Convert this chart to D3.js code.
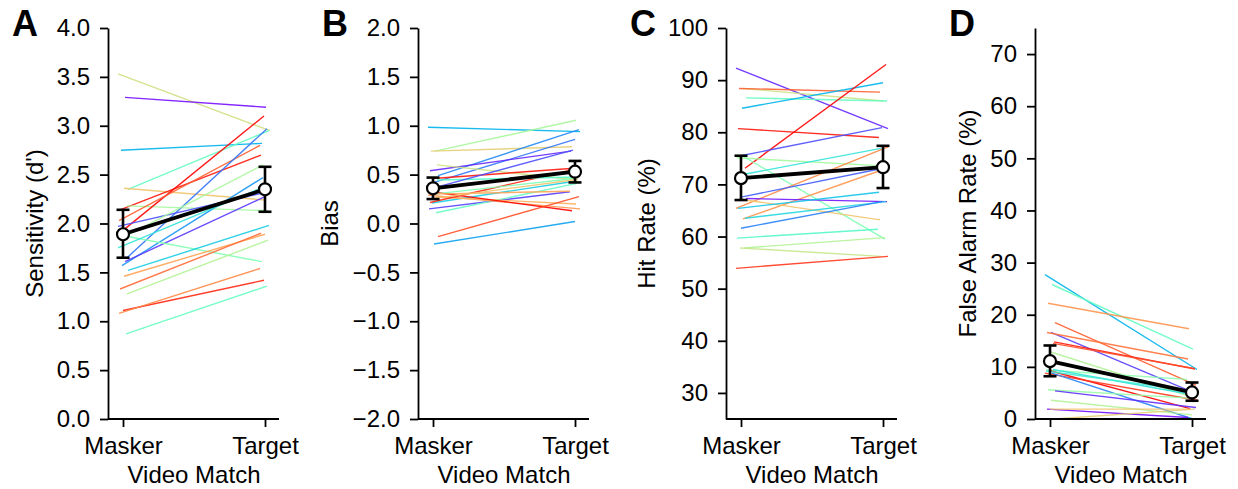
<!DOCTYPE html>
<html>
<head>
<meta charset="utf-8">
<script src="https://cdn.jsdelivr.net/npm/d3@7"></script>
<style>
  body { margin: 0; background: #fff; }
  svg { display: block; font-family: "Liberation Sans", Arial, sans-serif; }
</style>
</head>
<body>
<svg id="chart" width="1238" height="489"></svg>
<script>
// Conditions on the x axis
const conditions = ["Masker", "Target"];

// Panel A - sensitivity (d') per subject
const dprimeMasker = [3.53, 3.29, 2.75, 2.35, 2.36, 2.14, 2.18, 1.93, 2.03, 1.64, 1.57, 1.97, 1.61, 1.88, 1.52, 1.46, 1.33, 1.28, 1.11, 1.08, 0.87, 1.85, 1.75];
const dprimeTarget = [2.95, 3.19, 2.82, 2.95, 2.24, 2.70, 2.13, 3.10, 2.80, 2.97, 2.47, 2.33, 2.28, 1.61, 1.98, 1.89, 1.90, 1.83, 1.42, 1.54, 1.36, 2.60, 2.40];
const dprimeHue    = [0.66, 0.02, 0.25, 0.45, 0.72, 0.97, 0.57, 1.00, 0.88, 0.15, 0.20, 0.10, 0.07, 0.50, 0.30, 0.78, 0.86, 0.60, 0.95, 0.82, 0.45, 0.58, 0.35];
const dprimeMean = [1.89, 2.35];
const dprimeErrLo = [1.65, 2.12];
const dprimeErrHi = [2.14, 2.58];

// Panel B - bias
const biasMasker = [0.985, 0.74, 0.74, 0.49, 0.42, 0.54, 0.60, 0.46, 0.15, 0.11, 0.21, 0.29, 0.27, 0.325, -0.135, -0.21, 0.215, 0.445, 0.30, 0.30, 0.26, 0.36];
const biasTarget = [0.94, 1.056, 0.785, 0.96, 0.86, 0.74, 0.445, 0.565, 0.325, 0.41, 0.43, 0.15, 0.20, 0.13, 0.275, 0.02, 0.545, 0.475, 0.46, 0.33, 0.45, 0.75];
const biasHue    = [0.25, 0.58, 0.70, 0.18, 0.15, 0.05, 0.65, 0.97, 0.08, 0.45, 0.30, 0.80, 0.76, 1.00, 0.90, 0.22, 0.95, 0.42, 0.50, 0.78, 0.72, 0.10];
const biasMean = [0.36, 0.53];
const biasErrLo = [0.25, 0.42];
const biasErrHi = [0.47, 0.64];

// Panel C - hit rate (%)
const hitMasker = [92.3, 88.4, 88.4, 86.6, 84.6, 80.7, 73.1, 75.5, 75.1, 75.3, 71.8, 65.4, 63.4, 67.2, 67.3, 67.6, 65.4, 63.5, 61.6, 59.7, 57.8, 57.8, 53.9];
const hitTarget = [80.7, 86.0, 87.7, 86.0, 89.5, 79.0, 93.0, 80.9, 73.6, 59.5, 76.9, 77.2, 72.9, 63.2, 66.7, 73.1, 68.5, 66.7, 66.7, 61.4, 59.8, 56.2, 56.2];
const hitHue    = [0.05, 0.65, 0.88, 0.45, 0.25, 0.97, 1.00, 0.10, 0.57, 0.50, 0.35, 0.82, 0.80, 0.72, 0.03, 0.12, 0.28, 0.32, 0.17, 0.42, 0.60, 0.64, 0.93];
const hitMean = [71.2, 73.3];
const hitErrLo = [67.0, 69.3];
const hitErrHi = [75.5, 77.4];

// Panel D - false alarm rate (%)
const faMasker = [27.7, 25.8, 22.2, 18.5, 16.6, 16.6, 14.8, 12.9, 9.4, 9.5, 9.3, 8.8, 8.8, 5.6, 5.4, 3.6, 1.9, 0.0, 1.9, 9.2, 14.5];
const faTarget = [9.5, 13.4, 17.3, 6.5, 5.2, 11.5, 9.6, 4.3, 7.6, 4.6, 2.0, 3.6, 0.0, 4.0, 2.2, 0.8, 0.3, 1.9, 1.9, 5.5, 9.7];
const faHue    = [0.25, 0.45, 0.80, 0.88, 0.08, 0.85, 0.97, 0.60, 0.52, 0.35, 1.00, 0.93, 0.17, 0.55, 0.06, 0.60, 0.02, 0.70, 0.72, 0.38, 0.90];
const faMean = [11.1, 5.1];
const faErrLo = [8.2, 3.5];
const faErrHi = [14.1, 7.0];

// matplotlib "rainbow" colormap
function rainbow(t) {
  const r = Math.min(1, Math.abs(2 * t - 0.5));
  const g = Math.sin(Math.PI * t);
  const b = Math.cos(Math.PI * t / 2);
  return d3.rgb(r * 255, g * 255, b * 255).toString();
}

const panels = [
  { letter: "A", left: 108, letterX: 12, labelX: 43, title: "Sensitivity (d')", domain: [0, 4], ticks: d3.range(0, 4.01, 0.5), fmt: d3.format(".1f"),
    masker: dprimeMasker, target: dprimeTarget, hue: dprimeHue, mean: dprimeMean, lo: dprimeErrLo, hi: dprimeErrHi },
  { letter: "B", left: 418, letterX: 322, labelX: 338, title: "Bias", domain: [-2, 2], ticks: d3.range(-2, 2.01, 0.5), fmt: d => d3.format(".1f")(d).replace("-", "\u2212"),
    masker: biasMasker, target: biasTarget, hue: biasHue, mean: biasMean, lo: biasErrLo, hi: biasErrHi },
  { letter: "C", left: 726, letterX: 630, labelX: 655, title: "Hit Rate (%)", domain: [25, 100], ticks: d3.range(30, 101, 10), fmt: d3.format("d"),
    masker: hitMasker, target: hitTarget, hue: hitHue, mean: hitMean, lo: hitErrLo, hi: hitErrHi },
  { letter: "D", left: 1035, letterX: 949, labelX: 976, title: "False Alarm Rate (%)", domain: [0, 75], ticks: d3.range(0, 71, 10), fmt: d3.format("d"),
    masker: faMasker, target: faTarget, hue: faHue, mean: faMean, lo: faErrLo, hi: faErrHi }
];

const svg = d3.select("#chart");
const plotTop = 28, plotBottom = 419, plotW = 171;
const fontSize = "24px";

panels.forEach(p => {
  const g = svg.append("g").attr("transform", `translate(${p.left},0)`);

  const y = d3.scaleLinear().domain(p.domain).range([plotBottom, plotTop]);
  const x = d3.scalePoint().domain(conditions).range([15, 157]);

  // subject lines with a small fixed horizontal jitter
  const jit = i => ((i * 7) % 11) - 5;
  const subjects = p.masker.map((m, i) => ({ m, t: p.target[i], hue: p.hue[i], i }));
  g.selectAll(".subj")
    .data(subjects)
    .enter()
    .append("line")
    .attr("class", "subj")
    .attr("x1", d => x("Masker") + jit(d.i))
    .attr("x2", d => x("Target") + jit(d.i + 3))
    .attr("y1", d => y(d.m))
    .attr("y2", d => y(d.t))
    .attr("stroke", d => rainbow(d.hue))
    .attr("stroke-width", 1.4)
    .attr("stroke-opacity", 0.9);

  // mean line
  g.append("path")
    .datum(p.mean)
    .attr("d", d3.line().x((d, i) => x(conditions[i])).y(d => y(d)))
    .attr("fill", "none")
    .attr("stroke", "#000")
    .attr("stroke-width", 3.8);

  // error bars
  const err = p.mean.map((m, i) => ({ c: conditions[i], lo: p.lo[i], hi: p.hi[i], m }));
  const eb = g.selectAll(".err").data(err).enter().append("g").attr("class", "err")
    .attr("stroke", "#000").attr("stroke-width", 2.6);
  eb.append("line").attr("x1", d => x(d.c)).attr("x2", d => x(d.c)).attr("y1", d => y(d.lo)).attr("y2", d => y(d.hi));
  eb.append("line").attr("x1", d => x(d.c) - 6.5).attr("x2", d => x(d.c) + 6.5).attr("y1", d => y(d.lo)).attr("y2", d => y(d.lo));
  eb.append("line").attr("x1", d => x(d.c) - 6.5).attr("x2", d => x(d.c) + 6.5).attr("y1", d => y(d.hi)).attr("y2", d => y(d.hi));
  eb.append("circle").attr("cx", d => x(d.c)).attr("cy", d => y(d.m)).attr("r", 6)
    .attr("fill", "#fff").attr("stroke-width", 2.2);

  // axes
  const yAxis = g.append("g")
    .call(d3.axisLeft(y).tickValues(p.ticks).tickFormat(p.fmt).tickSize(8).tickPadding(10).tickSizeOuter(0));
  const xAxis = g.append("g").attr("transform", `translate(0,${plotBottom})`)
    .call(d3.axisBottom(x).tickSize(8).tickPadding(10).tickSizeOuter(0));
  xAxis.select(".domain").attr("d", `M0,0H${plotW}`);
  [yAxis, xAxis].forEach(a => {
    a.selectAll("path, line").attr("stroke", "#000").attr("stroke-width", 1.8);
    a.selectAll("text").attr("fill", "#000").style("font-size", fontSize);
  });

  // axis titles
  g.append("text")
    .attr("transform", `translate(${p.labelX - p.left},${(plotTop + plotBottom) / 2}) rotate(-90)`)
    .attr("text-anchor", "middle")
    .style("font-size", fontSize)
    .text(p.title);
  g.append("text")
    .attr("x", (x("Masker") + x("Target")) / 2)
    .attr("y", 483)
    .attr("text-anchor", "middle")
    .style("font-size", fontSize)
    .text("Video Match");

  // panel letter
  svg.append("text")
    .attr("x", p.letterX)
    .attr("y", 36)
    .style("font-size", "36px")
    .style("font-weight", "bold")
    .text(p.letter);
});
</script>
</body>
</html>
